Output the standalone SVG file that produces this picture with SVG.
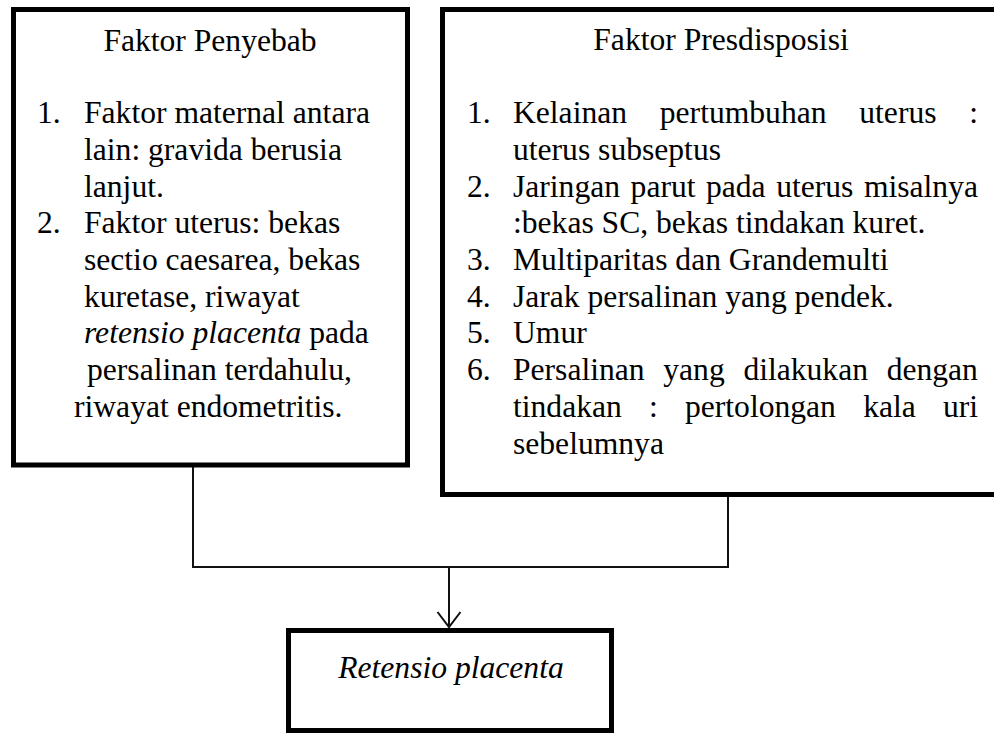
<svg xmlns="http://www.w3.org/2000/svg" width="994" height="733" viewBox="0 0 994 733">
<style>
text{font-family:"Liberation Serif","Tinos","DejaVu Serif","Noto Serif",serif;font-size:31.6px;fill:#000}
.i{font-style:italic}
.box{fill:#fff;stroke:#000;stroke-width:5}
.con{fill:none;stroke:#111;stroke-width:2}
</style>
<rect width="994" height="733" fill="#fff"/>
<g id="connectors">
<polyline class="con" points="193,467 193,567 728,567 728,497"/>
<line class="con" x1="449" y1="567" x2="449" y2="627"/>
<polyline class="con" points="437.5,612 449,627 460.5,612"/>
</g>
<g id="faktor-penyebab" font-family="Liberation Serif, serif">
<rect class="box" x="13.5" y="9.5" width="394" height="455.5"/>
<text x="210" y="51" text-anchor="middle">Faktor Penyebab</text>
<text x="37" y="123">1.</text>
<text x="84" y="123">Faktor maternal antara</text>
<text x="84" y="160">lain: gravida berusia</text>
<text x="84" y="197">lanjut.</text>
<text x="37" y="233">2.</text>
<text x="84" y="233">Faktor uterus: bekas</text>
<text x="84" y="270">sectio caesarea, bekas</text>
<text x="84" y="307">kuretase, riwayat</text>
<text x="84" y="343"><tspan class="i">retensio placenta</tspan> pada</text>
<text x="87" y="380">persalinan terdahulu,</text>
<text x="74" y="417">riwayat endometritis.</text>
</g>
<g id="faktor-presdisposisi">
<rect class="box" x="442.5" y="9.5" width="560" height="485"/>
<text x="721" y="50" text-anchor="middle">Faktor Presdisposisi</text>
<text x="467" y="123">1.</text>
<text y="123"><tspan x="513">Kelainan</tspan><tspan x="659.8">pertumbuhan</tspan><tspan x="859.3">uterus</tspan><tspan x="969.2">:</tspan></text>
<text x="513" y="160">uterus subseptus</text>
<text x="467" y="197">2.</text>
<text y="197"><tspan x="513">Jaringan</tspan><tspan x="630.6">parut</tspan><tspan x="706">pada</tspan><tspan x="776.2">uterus</tspan><tspan x="863.9">misalnya</tspan></text>
<text x="513" y="233">:bekas SC, bekas tindakan kuret.</text>
<text x="467" y="270">3.</text>
<text x="513" y="270">Multiparitas dan Grandemulti</text>
<text x="467" y="307">4.</text>
<text x="513" y="307">Jarak persalinan yang pendek.</text>
<text x="467" y="343">5.</text>
<text x="513" y="343">Umur</text>
<text x="467" y="380">6.</text>
<text y="380"><tspan x="513">Persalinan</tspan><tspan x="663.3">yang</tspan><tspan x="743.4">dilakukan</tspan><tspan x="886.7">dengan</tspan></text>
<text y="417"><tspan x="513">tindakan</tspan><tspan x="649">:</tspan><tspan x="685">pertolongan</tspan><tspan x="863.2">kala</tspan><tspan x="943">uri</tspan></text>
<text x="513" y="454">sebelumnya</text>
</g>
<g id="retensio-placenta">
<rect class="box" x="288.5" y="630.5" width="323" height="100"/>
<text class="i" x="451" y="678" text-anchor="middle">Retensio placenta</text>
</g>
</svg>
